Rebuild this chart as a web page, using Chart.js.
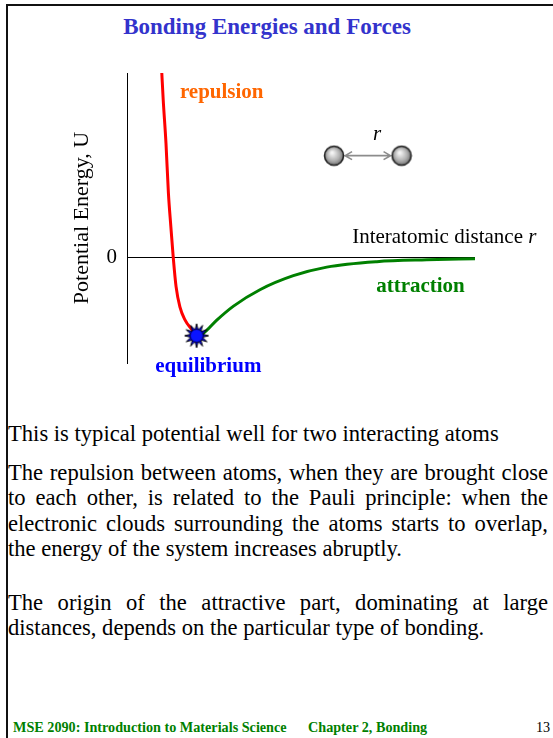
<!DOCTYPE html>
<html>
<head>
<meta charset="utf-8">
<script src="https://cdn.jsdelivr.net/npm/chart.js@4.4.0/dist/chart.umd.min.js"></script>
<style>
body { margin: 0; width: 553px; height: 738px; background: #fff; position: relative; overflow: hidden;
       font-family: "Liberation Serif", "Times New Roman", serif; }
#frame { position: absolute; left: 6px; top: 4px; right: -4px; bottom: -4px; border-top: 2px solid #111; border-left: 2px solid #111; }
#title { position: absolute; top: 14px; left: 0; width: 534px; text-align: center; font-weight: bold; font-size: 23px; color: #3333CC; }
#chartBox { position: absolute; left: 0; top: 0; width: 553px; height: 400px; }
.para { position: absolute; left: 8px; width: 540px; font-size: 22.6px; line-height: 25.3px; text-align: justify; color: #000; margin: 0; }
.foot { position: absolute; top: 719px; font-size: 14.2px; font-weight: bold; color: #008000; white-space: nowrap; }
</style>
</head>
<body>
<div id="frame"></div>
<div id="title">Bonding Energies and Forces</div>
<div id="chartBox"><canvas id="wellChart" width="553" height="400"></canvas></div>

<p class="para" style="top:421px">This is typical potential well for two interacting atoms</p>
<p class="para" style="top:460px">The repulsion between atoms, when they are brought close to each other, is related to the Pauli principle: when the electronic clouds surrounding the atoms starts to overlap, the energy of the system increases abruptly.</p>
<p class="para" style="top:590px">The origin of the attractive part, dominating at large distances, depends on the particular type of bonding.</p>

<div class="foot" style="left:13px">MSE 2090: Introduction to Materials Science</div>
<div class="foot" style="left:308px">Chapter 2, Bonding</div>
<div class="foot" style="left:536px;color:#000;font-weight:normal">13</div>

<script>
// potential well, interatomic distance r (arb. units) vs energy U (arb. units)
const repulsionR = [1.0, 1.04, 1.12, 1.19, 1.26, 1.33, 1.41, 1.52, 1.67, 1.86, 2.0];
const repulsionU = [2.37, 2.03, 1.47, 0.83, 0.40, 0.0, -0.37, -0.63, -0.80, -0.92, -1.0];
const attractionR = [2.0, 2.19, 2.58, 3.06, 3.82, 4.78, 5.74, 7.18, 8.61, 10.0];
const attractionU = [-1.0, -0.97, -0.80, -0.62, -0.41, -0.23, -0.12, -0.05, -0.026, -0.013];
const equilibriumR = [2.0];
const equilibriumU = [-1.0];
const atomR = [5.95, 7.89];
const atomU = [1.31, 1.31];
const yTickValues = [0];

// text notes, placed in data units
const noteText = ['repulsion', 'equilibrium', 'attraction', 'Interatomic distance ', 'r'];
const noteR = [1.52, 0.81, 7.16, 6.47, 7.07];
const noteU = [2.12, -1.40, -0.37, 0.26, 1.58];
const noteColor = ['#FF6600', '#0000FF', '#008000', '#000000', '#000000'];
const noteFont = ['bold 21px "Liberation Serif"', 'bold 21px "Liberation Serif"', 'bold 21px "Liberation Serif"',
                  '21px "Liberation Serif"', 'italic 21px "Liberation Serif"'];

function toPoints(xs, ys) {
    return xs.map((v, i) => ({ x: v, y: ys[i] }));
}

function makeStarburst() {
    const c = document.createElement('canvas');
    c.width = 28; c.height = 28;
    const g = c.getContext('2d');
    const spikes = 12;
    g.beginPath();
    for (let i = 0; i < spikes * 2; i++) {
        const rad = i % 2 === 0 ? 12 : 6;
        const a = Math.PI * i / spikes - Math.PI / 2;
        const px = 14 + rad * Math.cos(a), py = 14 + rad * Math.sin(a);
        if (i === 0) g.moveTo(px, py); else g.lineTo(px, py);
    }
    g.closePath();
    g.fillStyle = '#0000FF';
    g.fill();
    g.strokeStyle = '#000';
    g.lineWidth = 1;
    g.stroke();
    g.beginPath();
    g.arc(14, 14, 6.5, 0, Math.PI * 2);
    g.fillStyle = '#0a14ff';
    g.fill();
    g.strokeStyle = '#000050';
    g.stroke();
    return c;
}

function makeSphere() {
    const c = document.createElement('canvas');
    c.width = 22; c.height = 22;
    const g = c.getContext('2d');
    const grad = g.createRadialGradient(9, 8, 1, 11, 11, 10);
    grad.addColorStop(0, '#f4f4f4');
    grad.addColorStop(0.6, '#b0b0b0');
    grad.addColorStop(1, '#6c6c6c');
    g.beginPath();
    g.arc(11, 11, 9.5, 0, Math.PI * 2);
    g.fillStyle = grad;
    g.fill();
    g.strokeStyle = '#222';
    g.lineWidth = 1.6;
    g.stroke();
    return c;
}

const notesPlugin = {
    id: 'slideNotes',
    beforeDatasetsDraw(chart) {
        // double arrow between the two atoms
        const ctx = chart.ctx, x = chart.scales.x, y = chart.scales.y;
        const x1 = x.getPixelForValue(atomR[0]) + 11, x2 = x.getPixelForValue(atomR[1]) - 11;
        const yy = y.getPixelForValue(atomU[0]);
        ctx.save();
        ctx.strokeStyle = '#8c8c8c';
        ctx.lineWidth = 1.6;
        ctx.beginPath();
        ctx.moveTo(x1, yy); ctx.lineTo(x2, yy);
        ctx.moveTo(x1 + 7, yy - 4); ctx.lineTo(x1, yy); ctx.lineTo(x1 + 7, yy + 4);
        ctx.moveTo(x2 - 7, yy - 4); ctx.lineTo(x2, yy); ctx.lineTo(x2 - 7, yy + 4);
        ctx.stroke();
        ctx.restore();
    },
    afterDatasetsDraw(chart) {
        const ctx = chart.ctx, x = chart.scales.x, y = chart.scales.y;
        ctx.save();
        ctx.textBaseline = 'middle';
        ctx.textAlign = 'left';
        for (let i = 0; i < noteText.length; i++) {
            ctx.font = noteFont[i];
            ctx.fillStyle = noteColor[i];
            ctx.fillText(noteText[i], x.getPixelForValue(noteR[i]), y.getPixelForValue(noteU[i]));
        }
        // trailing italic r of the axis label
        ctx.font = noteFont[3];
        const w = ctx.measureText(noteText[3]).width;
        ctx.font = noteFont[4];
        ctx.fillStyle = '#000';
        ctx.fillText('r', x.getPixelForValue(noteR[3]) + w, y.getPixelForValue(noteU[3]));
        ctx.restore();
    }
};

const ctx = document.getElementById('wellChart').getContext('2d');
const config = {
    type: 'scatter',
    data: {
        datasets: [
            {
                label: 'equilibrium',
                data: toPoints(equilibriumR, equilibriumU),
                pointStyle: makeStarburst(),
                order: 0
            },
            {
                label: 'atoms',
                data: toPoints(atomR, atomU),
                pointStyle: makeSphere(),
                order: 0
            },
            {
                label: 'repulsion',
                data: toPoints(repulsionR, repulsionU),
                showLine: true,
                borderColor: '#FF0000',
                borderWidth: 3,
                pointRadius: 0,
                cubicInterpolationMode: 'monotone',
                clip: false,
                order: 2
            },
            {
                label: 'attraction',
                data: toPoints(attractionR, attractionU),
                showLine: true,
                borderColor: '#008000',
                borderWidth: 3,
                pointRadius: 0,
                cubicInterpolationMode: 'monotone',
                clip: false,
                order: 1
            }
        ]
    },
    options: {
        responsive: false,
        animation: false,
        layout: { padding: { left: 69, right: 78, top: 73, bottom: 37 } },
        plugins: {
            legend: { display: false },
            tooltip: { enabled: false }
        },
        scales: {
            x: { type: 'linear', min: 0, max: 10, display: false },
            y: {
                type: 'linear',
                min: -1.35,
                max: 2.37,
                afterBuildTicks: (scale) => {
                    scale.ticks = yTickValues.map(v => ({ value: v }));
                },
                afterFit: (scale) => {
                    scale.width = 58;
                },
                grid: { color: '#000', lineWidth: 1, drawTicks: false },
                border: { color: '#000', width: 1 },
                ticks: { color: '#000', font: { family: 'Liberation Serif', size: 21 }, padding: 10 },
                title: {
                    display: true,
                    text: 'Potential Energy, U',
                    color: '#000',
                    font: { family: 'Liberation Serif', size: 22 },
                    padding: 0
                }
            }
        }
    },
    plugins: [notesPlugin]
};
new Chart(ctx, config);
</script>
</body>
</html>
